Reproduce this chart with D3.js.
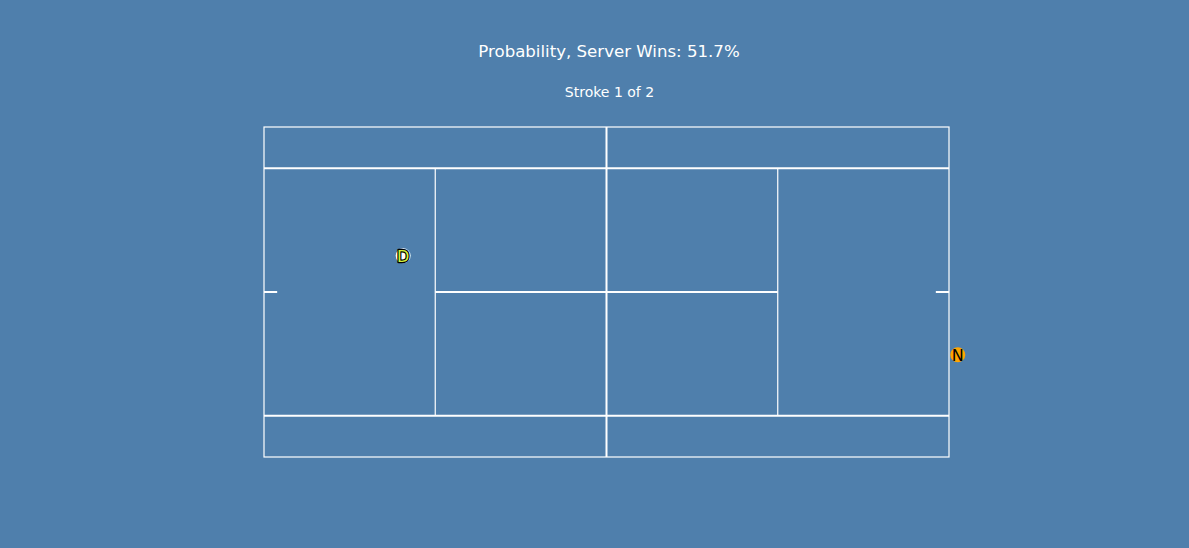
<!DOCTYPE html>
<html><head><meta charset="utf-8">
<script src="https://cdn.jsdelivr.net/npm/d3@7"></script>
<style>html,body{margin:0;padding:0;background:#4f7fac;}svg{display:block;}</style>
</head><body>
<script>
// Court geometry (court units: length 0-78, width 0-36)
const courtLength = [0, 78];
const courtWidth = [0, 36];
const singlesLines = [4.5, 31.5];
const serviceLines = [19.5, 58.5];
const netX = 39;
const centerY = 18;
const centerMarkLen = 1.5;
// Players
const players = ["D", "N"];
const playerX = [15.85, 79.0];
const playerY = [14.05, 24.85];
const playerFill = ["#ffffff", "#ffa500"];
const playerText = ["#d4f03c", "#000000"];
const titleText = "Probability, Server Wins: 51.7%";
const subtitleText = "Stroke 1 of 2";

const W = 1189, H = 548;
const svg = d3.select("body").append("svg").attr("width", W).attr("height", H);
svg.append("rect").attr("width", W).attr("height", H).attr("fill", "#4f7fac");

const x = d3.scaleLinear().domain(courtLength).range([264, 949]);
const y = d3.scaleLinear().domain(courtWidth).range([127, 457]);

const g = svg.append("g").attr("stroke", "#ffffff").attr("fill", "none");
// outer doubles box
g.append("rect").attr("x", x(0)).attr("y", y(0)).attr("width", x(78) - x(0)).attr("height", y(36) - y(0)).attr("stroke-width", 1.2);
// singles sidelines
singlesLines.forEach(v => g.append("line").attr("x1", x(0)).attr("x2", x(78)).attr("y1", y(v)).attr("y2", y(v)).attr("stroke-width", 2));
// service lines
serviceLines.forEach(v => g.append("line").attr("x1", x(v)).attr("x2", x(v)).attr("y1", y(singlesLines[0])).attr("y2", y(singlesLines[1])).attr("stroke-width", 1.2));
// center service line
g.append("line").attr("x1", x(serviceLines[0])).attr("x2", x(serviceLines[1])).attr("y1", y(centerY)).attr("y2", y(centerY)).attr("stroke-width", 2);
// net
g.append("line").attr("x1", x(netX)).attr("x2", x(netX)).attr("y1", y(0)).attr("y2", y(36)).attr("stroke-width", 2);
// center marks
g.append("line").attr("x1", x(0)).attr("x2", x(centerMarkLen)).attr("y1", y(centerY)).attr("y2", y(centerY)).attr("stroke-width", 2);
g.append("line").attr("x1", x(78 - centerMarkLen)).attr("x2", x(78)).attr("y1", y(centerY)).attr("y2", y(centerY)).attr("stroke-width", 2);

// players
const pg = svg.selectAll("g.player").data(players).enter().append("g").attr("class", "player")
  .attr("transform", (d, i) => `translate(${x(playerX[i])},${y(playerY[i])})`);
pg.append("circle").attr("r", 7.5).attr("fill", (d, i) => playerFill[i]);
pg.append("text").text(d => d).attr("text-anchor", "middle").attr("dy", "0.36em")
  .attr("font-family", "DejaVu Sans, sans-serif").attr("font-size", 16)
  .attr("fill", (d, i) => playerText[i])
  .attr("stroke", (d, i) => i === 0 ? "#000" : "none").attr("stroke-width", 2.4)
  .attr("stroke-linejoin", "round")
  .attr("paint-order", "stroke");

svg.append("text").text(titleText).attr("x", 609).attr("y", 56.5).attr("text-anchor", "middle")
  .attr("font-family", "DejaVu Sans, sans-serif").attr("font-size", 16.6).attr("fill", "#ffffff");
svg.append("text").text(subtitleText).attr("x", 609.5).attr("y", 96.5).attr("text-anchor", "middle")
  .attr("font-family", "DejaVu Sans, sans-serif").attr("font-size", 14).attr("fill", "#ffffff");
</script>
</body></html>
